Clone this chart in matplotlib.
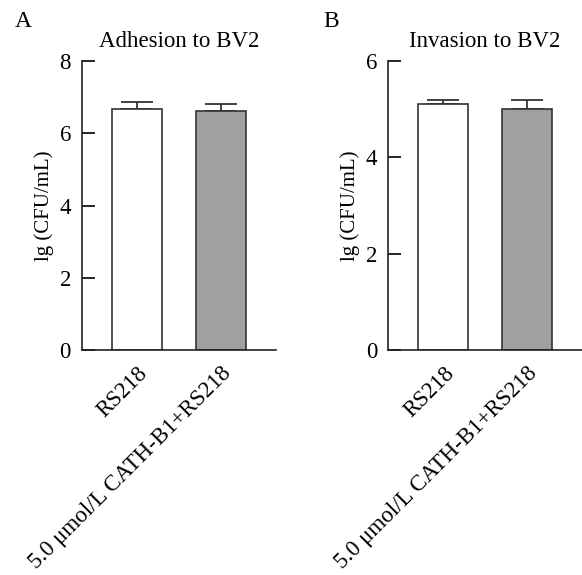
import numpy as np
import matplotlib
matplotlib.use("Agg")
import matplotlib.pyplot as plt

plt.rcParams['font.family'] = ['Liberation Serif', 'DejaVu Serif']

groups = ["RS218", "5.0 μmol/L CATH-B1+RS218"]
adhesion_mean = [6.66, 6.62]
adhesion_err = [0.20, 0.18]
invasion_mean = [5.10, 5.00]
invasion_err = [0.10, 0.20]

bar_colors = ["white", "#a0a0a0"]
edge = "#333333"

fig = plt.figure(figsize=(5.82, 5.75), dpi=100)

# letter, title, values, errors, y max, y ticks, axes rect, letter x
panels = [
    ("A", "Adhesion to BV2", adhesion_mean, adhesion_err, 8, [0, 2, 4, 6, 8],
     [0.141, 0.391, 0.333, 0.503], 0.026),
    ("B", "Invasion to BV2", invasion_mean, invasion_err, 6, [0, 2, 4, 6],
     [0.667, 0.391, 0.333, 0.503], 0.555),
]

for letter, title, means, errs, ymax, yticks, rect, lx in panels:
    ax = fig.add_axes(rect)
    x = np.arange(len(groups))
    ax.errorbar(x, means, yerr=[np.zeros(len(errs)), errs], fmt="none",
                ecolor=edge, elinewidth=1.3, capsize=11.5, capthick=1.3, zorder=1)
    ax.bar(x, means, width=0.6, color=bar_colors, edgecolor=edge,
           linewidth=1.2, zorder=2)
    ax.set_xlim(-0.66, 1.66)
    ax.set_ylim(0, ymax)
    ax.set_yticks(yticks)
    ax.set_xticks(x)
    ax.set_xticklabels(groups, rotation=45, ha="right", rotation_mode="anchor",
                       fontsize=16.5)
    ax.tick_params(axis="y", direction="in", length=9, width=1.2, labelsize=16.5, pad=8)
    ax.tick_params(axis="x", direction="in", length=8, width=1.2, pad=9)
    for s in ["top", "right"]:
        ax.spines[s].set_visible(False)
    for s in ["left", "bottom"]:
        ax.spines[s].set_linewidth(1.2)
        ax.spines[s].set_color("#222222")
    for t in ax.get_xticklines():
        t.set_zorder(3)
    ax.set_ylabel("lg (CFU/mL)", fontsize=15, labelpad=4)
    ax.set_title(title, fontsize=16.5, pad=10)
    fig.text(lx, 0.963, letter, fontsize=17, ha="left", va="center")

fig.savefig("out.png", dpi=100)
